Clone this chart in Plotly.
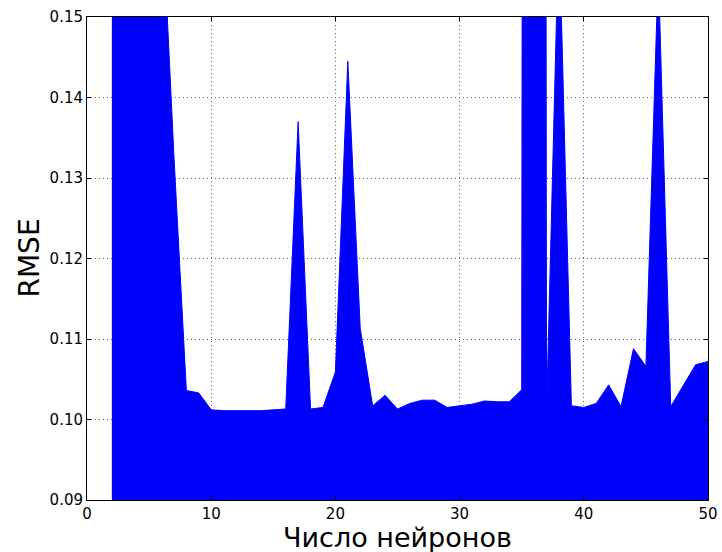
import plotly.graph_objects as go

neurons = list(range(2, 51))
rmse = [
    0.50, 0.32, 0.24, 0.20, 0.165, 0.1327, 0.1036, 0.1033, 0.1012,   # 2-10
    0.1011, 0.1011, 0.1011, 0.1011, 0.1012, 0.1013, 0.1370, 0.1013, 0.1015, 0.1059,  # 11-20
    0.1445, 0.1113, 0.1017, 0.1030, 0.1013, 0.1020, 0.1024, 0.1024, 0.1015, 0.1017,  # 21-30
    0.1019, 0.1023, 0.1022, 0.1022, 0.1037, 1.50, 0.1010, 0.1620, 0.1017, 0.1015,    # 31-40
    0.1020, 0.1043, 0.1016, 0.1088, 0.1066, 0.1560, 0.1016, 0.1042, 0.1068, 0.1072,  # 41-50
]

x_ticks = [0, 10, 20, 30, 40, 50]
y_ticks = [0.09, 0.10, 0.11, 0.12, 0.13, 0.14, 0.15]
y_tick_labels = ["0.09", "0.10", "0.11", "0.12", "0.13", "0.14", "0.15"]
x_title = "Число нейронов"
y_title = "RMSE"

font_family = "DejaVu Sans"

fig = go.Figure()
fig.add_trace(go.Scatter(
    x=neurons, y=rmse, mode="lines", fill="tozeroy",
    line=dict(color="#0000ff", width=1), fillcolor="#0000ff",
    hoverinfo="x+y", showlegend=False,
))

axis_common = dict(
    showline=True, linecolor="black", linewidth=1, mirror="ticks",
    ticks="inside", ticklen=4, tickcolor="black",
    showgrid=True, gridcolor="#666666", griddash="1px,3px", gridwidth=1,
    zeroline=False, automargin=False,
    tickfont=dict(family=font_family, size=15, color="black"),
)

fig.update_xaxes(
    range=[0, 50], tickvals=x_ticks, ticktext=[str(v) for v in x_ticks],
    **axis_common,
)
fig.update_yaxes(
    range=[0.09, 0.15], tickvals=y_ticks, ticktext=y_tick_labels,
    **axis_common,
)

fig.add_annotation(
    text=x_title, xref="paper", yref="paper", x=0.5, y=-37 / 483,
    xanchor="center", yanchor="middle", showarrow=False,
    font=dict(family=font_family, size=27, color="black"),
)
fig.add_annotation(
    text=y_title, xref="paper", yref="paper", x=-58 / 621, y=0.5,
    xanchor="center", yanchor="middle", showarrow=False, textangle=-90,
    font=dict(family=font_family, size=28, color="black"),
)

fig.update_layout(
    width=722, height=552,
    margin=dict(l=87, r=14, t=17, b=52),
    paper_bgcolor="white", plot_bgcolor="white",
    font=dict(family=font_family, color="black"),
)

fig.write_html(
    "out.html",
    config={"displayModeBar": False},
    post_script="document.body.style.margin='0';document.body.style.overflow='hidden';",
)
